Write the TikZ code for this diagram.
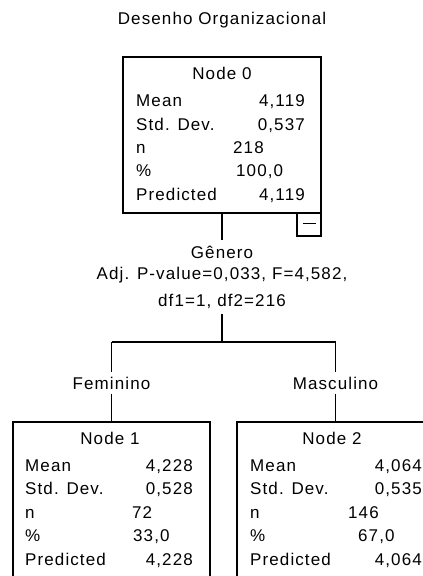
\documentclass[tikz,border=0pt]{standalone}
\usepackage{fontspec}
\setmainfont{Liberation Sans}[LetterSpace=6.5]
\usepackage{tikz}

\tikzset{
  every node/.style={font=\fontsize{17}{20}\selectfont},
  box/.style={draw, line width=1.3pt, inner sep=0pt},
  cell/.style={inner sep=0pt, text height=12pt, text depth=0pt},
  edge/.style={line width=1.3pt},
}

\begin{document}
\begin{tikzpicture}[x=1pt,y=-1pt]
  \useasboundingbox (0,0) rectangle (423,576);
  \clip (0,0) rectangle (423,576);

  \node[cell] (title) at (222,18) {Desenho Organizacional};

  % root
  \node[box, minimum width=198pt, minimum height=156pt] (node0) at (222,135) {};
  \node[box, minimum width=24pt, minimum height=23pt] (toggle) at (309,224.5) {};
  \draw[edge] (toggle.center) +(-6.5,-1) -- +(6.5,-1);
  \node[cell] (n0head) at (222,73) {Node 0};
  \node[cell, anchor=west] (n0l1) at (136,100) {Mean};
  \node[cell, anchor=west] (n0l2) at (136,124) {Std. Dev.};
  \node[cell, anchor=west] (n0l3) at (136,147) {n};
  \node[cell, anchor=west] (n0l4) at (136,170.5) {\%};
  \node[cell, anchor=west] (n0l5) at (136,194) {Predicted};
  \node[cell, anchor=east] (n0v1) at (305,100) {4,119};
  \node[cell, anchor=east] (n0v2) at (305,124) {0,537};
  \node[cell, anchor=west] (n0v3) at (233,147) {218};
  \node[cell, anchor=west] (n0v4) at (236,170.5) {100,0};
  \node[cell, anchor=east] (n0v5) at (305,194) {4,119};

  % split on Genero
  \coordinate (split-top) at (222,240);
  \node[cell] (splitvar) at (222,252) {Gênero};
  \node[cell] (splitp) at (222,273) {Adj. P-value=0,033, F=4,582,};
  \node[cell] (splitdf) at (222,300) {df1=1, df2=216};
  \coordinate (split-bot) at (222,314);
  \coordinate (bar-mid) at (222,342);
  \coordinate (bar-left) at (111.5,342);
  \coordinate (bar-right) at (335.5,342);
  \draw[edge] (node0.south) -- (split-top);
  \draw[edge] (split-bot) -- (bar-mid);
  \draw[edge] (bar-left) -- (bar-right);

  \node[cell, text height=21pt, minimum height=21pt] (fem) at (111.5,383) {};
  \node[cell] (femtext) at (fem.center) {Feminino};
  \node[cell, text height=21pt, minimum height=21pt] (masc) at (335.5,383) {};
  \node[cell] (masctext) at (masc.center) {Masculino};
  \draw[edge] (bar-left) -- (fem.north);
  \draw[edge] (bar-right) -- (masc.north);

  % children
  \node[box, minimum width=197pt, minimum height=156pt] (node1) at (111.5,500) {};
  \node[box, minimum width=197pt, minimum height=156pt] (node2) at (335.5,500) {};
  \draw[edge] (fem.south) -- (node1.north);
  \draw[edge] (masc.south) -- (node2.north);

  \node[cell] (n1head) at (110,438) {Node 1};
  \node[cell, anchor=west] (n1l1) at (25,465) {Mean};
  \node[cell, anchor=west] (n1l2) at (25,488.5) {Std. Dev.};
  \node[cell, anchor=west] (n1l3) at (25,512) {n};
  \node[cell, anchor=west] (n1l4) at (25,535.5) {\%};
  \node[cell, anchor=west] (n1l5) at (25,559) {Predicted};
  \node[cell, anchor=east] (n1v1) at (193,465) {4,228};
  \node[cell, anchor=east] (n1v2) at (193,488.5) {0,528};
  \node[cell, anchor=west] (n1v3) at (132,512) {72};
  \node[cell, anchor=west] (n1v4) at (133,535.5) {33,0};
  \node[cell, anchor=east] (n1v5) at (193,559) {4,228};

  \node[cell] (n2head) at (332,438) {Node 2};
  \node[cell, anchor=west] (n2l1) at (250,465) {Mean};
  \node[cell, anchor=west] (n2l2) at (250,488.5) {Std. Dev.};
  \node[cell, anchor=west] (n2l3) at (250,512) {n};
  \node[cell, anchor=west] (n2l4) at (250,535.5) {\%};
  \node[cell, anchor=west] (n2l5) at (250,559) {Predicted};
  \node[cell, anchor=east] (n2v1) at (422,465) {4,064};
  \node[cell, anchor=east] (n2v2) at (422,488.5) {0,535};
  \node[cell, anchor=west] (n2v3) at (348,512) {146};
  \node[cell, anchor=west] (n2v4) at (358,535.5) {67,0};
  \node[cell, anchor=east] (n2v5) at (422,559) {4,064};
\end{tikzpicture}
\end{document}
